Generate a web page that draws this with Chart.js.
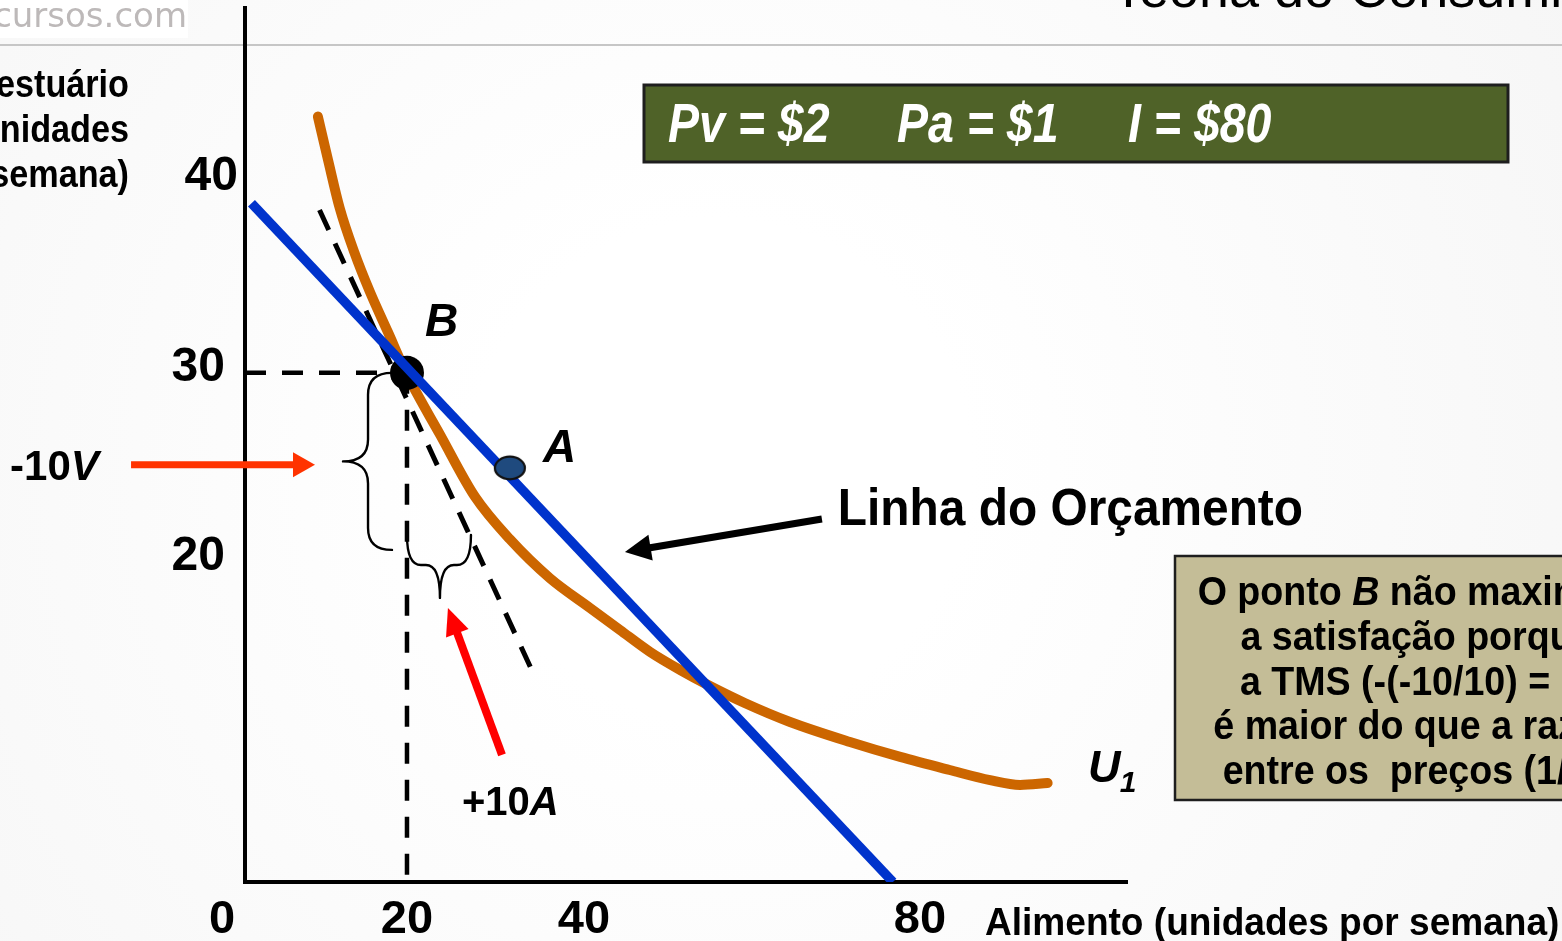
<!DOCTYPE html>
<html><head><meta charset="utf-8">
<script src="https://cdn.jsdelivr.net/npm/chart.js@4.4.1/dist/chart.umd.min.js"></script>
<style>html,body{margin:0;padding:0;background:#fff;overflow:hidden}canvas{display:block}</style>
</head><body>
<canvas id="c" width="1562" height="941"></canvas>
<script>
// ---- data ----
const xTickValues = [0, 20, 40, 80];
const xTickLabels = ['0', '20', '40', '80'];
const yTickValues = [40, 30, 20];
const yTickLabels = ['40', '30', '20'];
const budgetLine = [{x: 0.8, y: 40.0}, {x: 80, y: 0}];
const indifferenceU1 = [
  {x: 9.0, y: 45.1}, {x: 10.25, y: 42.55}, {x: 11.7, y: 39.7}, {x: 13.5, y: 37.1},
  {x: 15.4, y: 34.8}, {x: 17.65, y: 32.4}, {x: 20.0, y: 29.9}, {x: 24.1, y: 26.35},
  {x: 28.4, y: 22.7}, {x: 32.7, y: 20.2}, {x: 37.65, y: 17.9}, {x: 42.6, y: 16.15},
  {x: 46.3, y: 14.85}, {x: 50.0, y: 13.56}, {x: 53.7, y: 12.5}, {x: 57.4, y: 11.55},
  {x: 61.7, y: 10.55}, {x: 67.3, y: 9.43}, {x: 74.7, y: 8.25}, {x: 80.9, y: 7.37},
  {x: 87.0, y: 6.6}, {x: 92.0, y: 6.0}, {x: 95.7, y: 5.72}, {x: 99.1, y: 5.83}
];
const tangentAtB = [{x: 9.2, y: 39.6}, {x: 35.4, y: 12.5}];
const guideH = [{x: 0, y: 30}, {x: 20, y: 30}];
const guideV = [{x: 20, y: 30}, {x: 20, y: 0}];
const pointB = [{x: 20, y: 30}];
const pointA = [{x: 32.7, y: 24.4}];

// ---- helpers ----
const SANS = "'Liberation Sans', Arial, Helvetica, sans-serif";
function runsWidth(ctx, runs, sx) {
  let w = 0;
  for (const r of runs) { ctx.font = r.f; w += ctx.measureText(r.t).width * sx; }
  return w;
}
function drawRuns(ctx, runs, x, y, align, sx, color) {
  const w = runsWidth(ctx, runs, sx);
  let cx = align === 'center' ? x - w / 2 : align === 'right' ? x - w : x;
  ctx.fillStyle = color; ctx.textBaseline = 'alphabetic'; ctx.textAlign = 'left';
  for (const r of runs) {
    ctx.font = r.f;
    ctx.save(); ctx.translate(cx, y); ctx.scale(sx, 1); ctx.fillText(r.t, 0, 0); ctx.restore();
    cx += ctx.measureText(r.t).width * sx;
  }
}
function txt(ctx, t, x, y, font, align, sx, color) { drawRuns(ctx, [{t, f: font}], x, y, align, sx, color); }
function arrow(ctx, x1, y1, x2, y2, color, lw, hl, hw) {
  const a = Math.atan2(y2 - y1, x2 - x1), c = Math.cos(a), s = Math.sin(a);
  const bx = x2 - hl * c, by = y2 - hl * s;
  ctx.save();
  ctx.strokeStyle = color; ctx.lineWidth = lw; ctx.lineCap = 'butt';
  ctx.beginPath(); ctx.moveTo(x1, y1); ctx.lineTo(bx + 2 * c, by + 2 * s); ctx.stroke();
  ctx.fillStyle = color; ctx.beginPath(); ctx.moveTo(x2, y2);
  ctx.lineTo(bx + hw / 2 * s, by - hw / 2 * c); ctx.lineTo(bx - hw / 2 * s, by + hw / 2 * c);
  ctx.closePath(); ctx.fill();
  ctx.restore();
}

// ellipse marker for A
const aImg = document.createElement('canvas'); aImg.width = 36; aImg.height = 28;
(function () { const g = aImg.getContext('2d'); g.beginPath(); g.ellipse(18, 14, 15, 11.3, 0, 0, Math.PI * 2);
  g.fillStyle = '#1F4A7E'; g.fill(); g.lineWidth = 2.2; g.strokeStyle = '#111'; g.stroke(); })();

const bgPlugin = {
  id: 'bg',
  beforeDraw(chart) {
    const ctx = chart.ctx, W = chart.width, H = chart.height;
    ctx.save();
    const gr = ctx.createRadialGradient(720, 470, 250, 720, 470, 1000);
    gr.addColorStop(0, '#FFFFFF'); gr.addColorStop(1, '#F6F6F6');
    ctx.fillStyle = gr; ctx.fillRect(0, 0, W, H);
    ctx.fillStyle = '#FFFFFF'; ctx.fillRect(0, 0, 188, 38);
    // header rule
    ctx.strokeStyle = '#C6C6C6'; ctx.lineWidth = 2;
    ctx.beginPath(); ctx.moveTo(0, 45); ctx.lineTo(W, 45); ctx.stroke();
    txt(ctx, 'cursos.com', 187, 27, "34px 'DejaVu Sans', sans-serif", 'right', 1, '#BDB9B9');
    txt(ctx, 'Teoria do Consumidor', 1112, 7, '54px ' + SANS, 'left', 1, '#000');
    ctx.restore();
  }
};

const annotPlugin = {
  id: 'annot',
  afterDatasetsDraw(chart) {
    const ctx = chart.ctx, X = chart.scales.x, Y = chart.scales.y;
    const px = v => X.getPixelForValue(v), py = v => Y.getPixelForValue(v);
    ctx.save();
    ctx.strokeStyle = '#000'; ctx.lineWidth = 2.4; ctx.lineCap = 'round'; ctx.lineJoin = 'round';
    // left brace (vertical change)
    let xe = px(18.15), xb = px(15.19), xt = px(12.1), yt = py(30), yb = py(19.57), ym = (yt + yb) / 2, r = 22;
    ctx.beginPath();
    ctx.moveTo(xe, yt);
    ctx.quadraticCurveTo(xb, yt, xb, yt + r);
    ctx.lineTo(xb, ym - r);
    ctx.quadraticCurveTo(xb, ym, xt, ym);
    ctx.quadraticCurveTo(xb, ym, xb, ym + r);
    ctx.lineTo(xb, yb - r);
    ctx.quadraticCurveTo(xb, yb, xe, yb);
    ctx.stroke();
    // bottom brace (horizontal change)
    let xl = px(20.0), xr = px(27.9), xm = px(24.07), ye = py(20.45), yby = py(18.68), ytp = py(16.74), r2 = 14;
    ctx.beginPath();
    ctx.moveTo(xl, ye);
    ctx.quadraticCurveTo(xl, yby, xl + r2, yby);
    ctx.lineTo(xm - r2, yby);
    ctx.quadraticCurveTo(xm, yby, xm, ytp);
    ctx.quadraticCurveTo(xm, yby, xm + r2, yby);
    ctx.lineTo(xr - r2, yby);
    ctx.quadraticCurveTo(xr, yby, xr, ye);
    ctx.stroke();
    ctx.restore();
    // arrows
    arrow(ctx, px(-14.07), py(24.58), px(8.64), py(24.58), '#FF3300', 7, 22, 25);
    arrow(ctx, px(31.73), py(7.49), px(25.06), py(16.15), '#FF0000', 8, 27, 24);
    arrow(ctx, px(71.23), py(21.39), px(46.91), py(19.45), '#000000', 7, 26, 26);
  },
  afterDraw(chart) {
    const ctx = chart.ctx, X = chart.scales.x, Y = chart.scales.y;
    const px = v => X.getPixelForValue(v), py = v => Y.getPixelForValue(v);
    const B = 'bold ', BI = 'italic bold ';
    ctx.save();
    // tick labels
    const xNudge = [-23, 0, 15, 27];
    xTickValues.forEach((v, i) => txt(ctx, xTickLabels[i], px(v) + xNudge[i], 933, B + '47px ' + SANS, 'center', 1, '#000'));
    const yNudge = [[-7, -13], [-20, 8], [-20, 27]];
    yTickValues.forEach((v, i) => txt(ctx, yTickLabels[i], px(0) + yNudge[i][0], py(v) + yNudge[i][1], B + '48px ' + SANS, 'right', 1, '#000'));
    // axis titles
    ['Vestuário', '(unidades', 'por semana)'].forEach((t, i) => txt(ctx, t, 129, 97 + 45 * i, B + '38px ' + SANS, 'right', 0.9, '#000'));
    txt(ctx, 'Alimento (unidades por semana)', 985, 935, B + '39px ' + SANS, 'left', 0.95, '#000');
    // point labels
    txt(ctx, 'B', px(22.22), py(32.18), BI + '46px ' + SANS, 'left', 1, '#000');
    txt(ctx, 'A', px(36.79), py(24.75), BI + '46px ' + SANS, 'left', 1, '#000');
    txt(ctx, 'Linha do Orçamento', px(73.2), py(21.04), B + '52px ' + SANS, 'left', 0.92, '#000');
    txt(ctx, 'U', px(104.07), py(5.89), BI + '45px ' + SANS, 'left', 1, '#000');
    txt(ctx, '1', px(108.0), py(5.3), BI + '30px ' + SANS, 'left', 1, '#000');
    drawRuns(ctx, [{t: '-10', f: B + '42px ' + SANS}, {t: 'V', f: BI + '42px ' + SANS}], px(-29.0), py(23.69), 'left', 1, '#000');
    drawRuns(ctx, [{t: '+10', f: B + '40px ' + SANS}, {t: 'A', f: BI + '40px ' + SANS}], px(26.79), py(3.95), 'left', 1, '#000');
    // green parameter box
    ctx.fillStyle = '#4F6228'; ctx.fillRect(644, 85, 864, 77);
    ctx.strokeStyle = '#1E1E1E'; ctx.lineWidth = 3; ctx.strokeRect(644, 85, 864, 77);
    const gf = BI + '56px ' + SANS;
    txt(ctx, 'Pv = $2', 668, 142, gf, 'left', 0.83, '#FFFFFF');
    txt(ctx, 'Pa = $1', 897, 142, gf, 'left', 0.83, '#FFFFFF');
    txt(ctx, 'I = $80', 1128, 142, gf, 'left', 0.83, '#FFFFFF');
    // tan explanation box
    ctx.fillStyle = '#C4BD97'; ctx.fillRect(1175, 556, 520, 244);
    ctx.strokeStyle = '#1E1E1E'; ctx.lineWidth = 2.5; ctx.strokeRect(1175, 556, 520, 244);
    const tf = B + '40px ' + SANS, tfi = BI + '40px ' + SANS;
    const lines = [
      [{t: 'O ponto ', f: tf}, {t: 'B', f: tfi}, {t: ' não maximiza', f: tf}],
      [{t: 'a satisfação porque', f: tf}],
      [{t: 'a TMS (-(-10/10) = 1)', f: tf}],
      [{t: 'é maior do que a razão', f: tf}],
      [{t: 'entre os  preços (1/2).', f: tf}]
    ];
    lines.forEach((ln, i) => drawRuns(ctx, ln, 1417, 605 + 44.8 * i, 'center', 0.94, '#000'));
    ctx.restore();
  }
};

const ORANGE = '#CC6600', BLUE = '#0033CC';
const chart = new Chart(document.getElementById('c'), {
  type: 'scatter',
  data: {datasets: [
    {label: 'U1', data: indifferenceU1, showLine: true, borderColor: ORANGE, borderWidth: 10, pointRadius: 0,
     cubicInterpolationMode: 'monotone', borderCapStyle: 'round', borderJoinStyle: 'round', order: 5},
    {label: 'Tangente em B', data: tangentAtB, showLine: true, borderColor: '#000', borderWidth: 5, borderDash: [22, 15], pointRadius: 0, order: 4},
    {label: 'guia horizontal', data: guideH, showLine: true, borderColor: '#000', borderWidth: 4.5, borderDash: [21, 16], pointRadius: 0, order: 4},
    {label: 'guia vertical', data: guideV, showLine: true, borderColor: '#000', borderWidth: 4.5, borderDash: [21, 16], pointRadius: 0, order: 4},
    {label: 'B', data: pointB, pointRadius: 17, pointBackgroundColor: '#000', pointBorderWidth: 0, order: 3},
    {label: 'Linha do Orçamento', data: budgetLine, showLine: true, borderColor: BLUE, borderWidth: 9.5, pointRadius: 0, order: 2},
    {label: 'A', data: pointA, pointStyle: aImg, pointRadius: 14, order: 1}
  ]},
  options: {
    responsive: false, animation: false, devicePixelRatio: 1, events: [],
    layout: {autoPadding: false, padding: {left: 245, right: 435, top: 8, bottom: 59}},
    plugins: {legend: {display: false}, tooltip: {enabled: false}},
    scales: {
      x: {type: 'linear', min: 0, max: 108.9, grid: {display: false, drawTicks: false, tickLength: 0}, ticks: {display: false, padding: 0},
          border: {display: true, color: '#000', width: 4}},
      y: {type: 'linear', min: 0, max: 51.5, grid: {display: false, drawTicks: false, tickLength: 0}, ticks: {display: false, padding: 0},
          border: {display: true, color: '#000', width: 4}}
    }
  },
  plugins: [bgPlugin, annotPlugin]
});
</script>
</body></html>
